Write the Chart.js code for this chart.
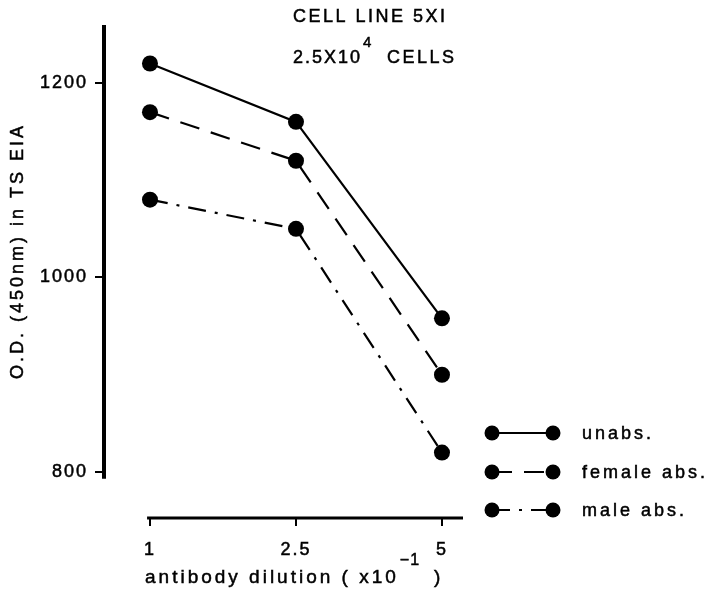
<!DOCTYPE html>
<html>
<head>
<meta charset="utf-8">
<script src="https://cdn.jsdelivr.net/npm/chart.js@4.4.1/dist/chart.umd.min.js"></script>
<style>
    html, body { margin: 0; padding: 0; background: #fff; }
    #wrap { width: 708px; height: 593px; position: relative; }
</style>
</head>
<body>
<div id="wrap"><canvas id="odChart"></canvas></div>
<script>
// data
const xLabels = ["1", "2.5", "5"];
const xIndex = [0, 1, 2];
const unabs = [1220, 1160, 958];
const femaleAbs = [1170, 1120, 900];
const maleAbs = [1080, 1050, 820];
const yTicks = [800, 1000, 1200];
const seriesNames = ["unabs.", "female abs.", "male abs."];

const FONT = "'Liberation Sans', Arial, sans-serif";

function toPoints(values) {
    return xIndex.map((x, i) => ({ x: x, y: values[i] }));
}

function makeSeries(label, values, dash) {
    return {
        label: label,
        data: toPoints(values),
        borderColor: "#000",
        backgroundColor: "#000",
        borderWidth: 2.2,
        borderDash: dash,
        pointRadius: 8,
        pointHoverRadius: 8,
        pointBorderWidth: 0,
        tension: 0,
        fill: false
    };
}

function text(ctx, str, x, y, size, spacing, align) {
    ctx.font = size + "px " + FONT;
    ctx.letterSpacing = spacing + "px";
    ctx.textAlign = align || "left";
    ctx.textBaseline = "middle";
    ctx.fillStyle = "#000";
    ctx.strokeStyle = "#000";
    ctx.lineWidth = 0.5;
    ctx.fillText(str, x, y);
    ctx.strokeText(str, x, y);
    return ctx.measureText(str).width;
}

// axis lines, titles and legend
const decorations = {
    id: "decorations",
    beforeDraw(chart) {
        chart.ctx.letterSpacing = "2px";
    },
    afterDraw(chart) {
        const ctx = chart.ctx;
        const xs = chart.scales.x;
        const ys = chart.scales.y;
        const area = chart.chartArea;
        ctx.save();
        ctx.strokeStyle = "#000";
        ctx.setLineDash([]);

        // y axis line
        ctx.lineWidth = 4;
        ctx.beginPath();
        ctx.moveTo(area.left, ys.getPixelForValue(ys.max));
        ctx.lineTo(area.left, ys.getPixelForValue(793));
        ctx.stroke();

        // x axis line
        ctx.lineWidth = 3;
        ctx.beginPath();
        ctx.moveTo(xs.getPixelForValue(-0.02), area.bottom);
        ctx.lineTo(area.right, area.bottom);
        ctx.stroke();

        // plot title
        text(ctx, "CELL LINE 5XI", 293, 17, 18, 2.5);
        let w = text(ctx, "2.5X10", 293, 58, 18, 2);
        text(ctx, "4", 293 + w + 1, 43, 15, 1);
        text(ctx, "CELLS", 387, 58, 18, 2.5);

        // y title
        ctx.save();
        ctx.translate(18, 251);
        ctx.rotate(-Math.PI / 2);
        text(ctx, "O.D. (450nm) in TS EIA", 0, 0, 18, 3, "center");
        ctx.restore();

        // x title
        w = text(ctx, "antibody dilution ( x10", 145, 578, 19, 3);
        text(ctx, "\u22121", 145 + w + 1, 561, 16, 1);
        text(ctx, ")", 434, 578, 19, 3);

        // legend
        const rows = [433, 472, 510];
        chart.data.datasets.forEach((ds, i) => {
            const y = rows[i];
            ctx.lineWidth = ds.borderWidth;
            ctx.setLineDash(ds.borderDash || []);
            ctx.beginPath();
            ctx.moveTo(492, y);
            ctx.lineTo(553, y);
            ctx.stroke();
            ctx.setLineDash([]);
            ctx.fillStyle = "#000";
            [492, 553].forEach(cx => {
                ctx.beginPath();
                ctx.arc(cx, y, 7.5, 0, Math.PI * 2);
                ctx.fill();
            });
            text(ctx, seriesNames[i], 582, y + 1, 18, 3);
        });
        ctx.restore();
    }
};

const ctx = document.getElementById("odChart");

new Chart(ctx, {
    type: "line",
    data: {
        datasets: [
            makeSeries(seriesNames[0], unabs, []),
            makeSeries(seriesNames[1], femaleAbs, [20, 12]),
            makeSeries(seriesNames[2], maleAbs, [18, 9, 3, 9])
        ]
    },
    options: {
        responsive: true,
        maintainAspectRatio: false,
        animation: false,
        events: [],
        layout: { padding: { left: 0, top: 25, right: 245, bottom: 0 } },
        plugins: {
            legend: { display: false },
            title: { display: false },
            tooltip: { enabled: false }
        },
        scales: {
            x: {
                type: "linear",
                position: "bottom",
                min: -0.315,
                max: 2.144,
                afterBuildTicks: s => { s.ticks = xIndex.map(v => ({ value: v })); },
                afterFit: s => { s.height = 75; },
                border: { display: false },
                grid: {
                    drawOnChartArea: false,
                    drawTicks: true,
                    tickLength: 8,
                    color: "#000",
                    lineWidth: 2
                },
                ticks: {
                    autoSkip: false,
                    maxRotation: 0,
                    padding: 13,
                    color: "#000",
                    textStrokeColor: "#000",
                    textStrokeWidth: 0.5,
                    font: { family: FONT, size: 18 },
                    callback: v => xLabels[xIndex.indexOf(v)] ?? ""
                }
            },
            y: {
                position: "left",
                min: 752.7,
                max: 1259.6,
                afterBuildTicks: s => { s.ticks = yTicks.map(v => ({ value: v })); },
                afterFit: s => { s.width = 104; },
                border: { display: false },
                grid: {
                    drawOnChartArea: false,
                    drawTicks: true,
                    tickLength: 9,
                    color: "#000",
                    lineWidth: 2
                },
                ticks: {
                    padding: 7,
                    color: "#000",
                    textStrokeColor: "#000",
                    textStrokeWidth: 0.5,
                    font: { family: FONT, size: 18 },
                    callback: v => String(v)
                }
            }
        }
    },
    plugins: [decorations]
});
</script>
</body>
</html>
